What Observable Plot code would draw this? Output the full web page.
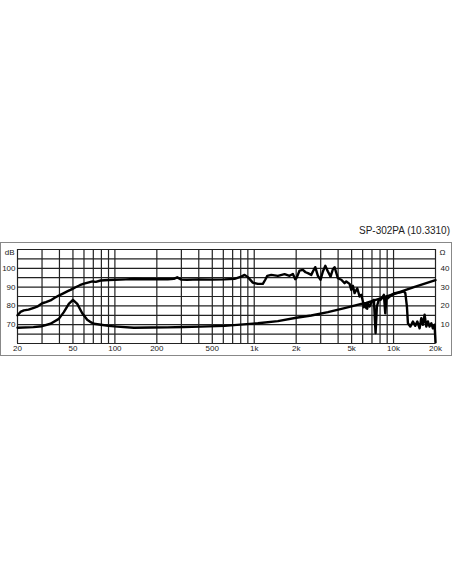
<!DOCTYPE html>
<html><head><meta charset="utf-8">
<script src="https://cdn.jsdelivr.net/npm/d3@7"></script>
<script src="https://cdn.jsdelivr.net/npm/@observablehq/plot@0.6"></script>
<style>
html,body{margin:0;padding:0;background:#fff;width:452px;height:584px;overflow:hidden;position:relative;font-family:"Liberation Sans",Arial,sans-serif;}
#chart{position:absolute;left:0;top:0;}
#title{position:absolute;right:2px;top:225px;font-size:10px;line-height:1.15;color:#222;white-space:nowrap;}
#frame{position:absolute;left:0;top:242px;width:452px;height:114px;border:1px solid #888;box-sizing:border-box;pointer-events:none;}
</style></head><body>
<div id="chart"></div>
<div id="title">SP-302PA (10.3310)</div>
<div id="frame"></div>
<script>
// Frequency response (SPL, dB)
const splFreq = [20,21,22.2,24,26.2,28,30.1,32,34.5,37,39.6,43,45.5,48,50,52.2,56,60,65,69,73,79,90,100,120,137,160,192,240,265,280,300,330,400,500,612,722,807,853,900,977,1062,1153,1200,1241,1325,1478,1651,1793,1894,1970,2003,2056,2116,2234,2336,2427,2567,2636,2742,2864,2994,3110,3236,3378,3532,3668,3773,3986,4216,4452,4578,4835,4972,5105,5250,5490,5702,5866,6024,6124,6194,6298,6370,6476,6542,6728,6988,7224,7430,7592,7810,8072,8246,8524,8722,8912,9106,9522,10172,11052,11866,12144,12470,12678,13190,13770,14322,14804,15376,15814,16240,16704,17180,17638,18140,18660,19156,19702,20000];
const splDb = [75.0,76.8,77.6,78.0,79.0,79.8,81.4,82.0,82.9,84.3,85.5,86.8,87.7,88.5,89.2,89.9,91.0,91.8,92.5,93.0,92.8,93.5,93.8,93.9,94.1,94.3,94.2,94.2,94.2,94.4,95.2,94.0,93.9,94.1,94.0,94.1,94.4,95.6,96.5,95.3,92.4,91.7,91.7,93.9,96.0,96.5,96.0,96.9,96.0,97.0,94.2,94.7,96.5,98.8,99.2,97.9,97.4,96.5,98.3,100.6,96.0,93.9,98.3,101.3,98.3,95.6,99.5,100.6,94.7,93.9,92.1,93.0,91.7,88.5,90.7,86.8,89.4,85.0,85.9,82.3,79.3,80.6,81.1,78.8,78.5,81.4,79.7,82.3,83.2,65.5,79.7,82.9,83.2,84.1,85.9,76.0,85.0,84.1,85.4,86.8,87.1,87.7,86.8,79.7,70.8,69.0,71.7,69.4,71.7,68.1,73.5,70.0,75.3,69.0,71.7,69.0,70.8,68.1,70.0,60.5];

// Impedance (Ω), plotted against the right-hand scale
const impFreq = [20,26,30,34.5,39.6,43,46.7,50,53.7,58.3,63.3,67.6,70.6,79.5,90,104,137,182,238,312,412,612,1062,1478,2003,2567,3378,4452,5866,6370,8072,10740,14000,20000];
const impOhm = [8.4,8.7,9.2,10.5,13.1,16.7,21.1,23.2,21.1,16.1,12.6,11.2,10.5,10.0,9.4,9.0,8.4,8.5,8.6,8.8,9.0,9.4,10.8,11.9,13.7,14.9,16.7,18.8,21.1,21.6,24.0,27.0,30.0,33.7];

const OHM_OFFSET = 60; // 10 Ω sits on the 70 dB line
const xTicks = [20,50,100,200,500,1000,2000,5000,10000,20000];
const xTickLabels = ["20","50","100","200","500","1k","2k","5k","10k","20k"];
const xGrid = [20,30,40,50,60,70,80,90,100,200,300,400,500,600,700,800,900,1000,2000,3000,4000,5000,6000,7000,8000,9000,10000,20000];
const dbTicks = [70,80,90,100];
const ohmTicks = [10,20,30,40];
const yGrid = [60,65,70,75,80,85,90,95,100,105,110];

const spl = splFreq.map((f,i)=>({f, db: splDb[i]}));
const imp = impFreq.map((f,i)=>({f, ohm: impOhm[i]}));
const xLab = xTicks.map((f,i)=>({f, label: xTickLabels[i]}));
const fontStyle = {fontFamily: '"Liberation Sans", Arial, sans-serif', fontSize: 8, fill: "#1a1a1a"};

const plot = Plot.plot({
  width: 452,
  height: 584,
  marginLeft: 17,
  marginRight: 17,
  marginTop: 249,
  marginBottom: 241,
  style: {fontFamily: '"Liberation Sans", Arial, sans-serif', fontSize: "8px", color: "#1a1a1a", background: "transparent"},
  x: {type: "log", domain: [20, 20000], axis: null},
  y: {domain: [60, 110], axis: null},
  marks: [
    Plot.ruleY(yGrid, {stroke: "#222", strokeWidth: 1.2}),
    Plot.ruleX(xGrid, {stroke: "#222", strokeWidth: 1.2}),
    Plot.line(imp, {x: "f", y: d => d.ohm + OHM_OFFSET, stroke: "#000", strokeWidth: 2.4, strokeLinejoin: "round", strokeLinecap: "round"}),
    Plot.line(spl, {x: "f", y: "db", stroke: "#000", strokeWidth: 2.4, strokeLinejoin: "round", strokeLinecap: "round"}),
    Plot.text(xLab, {x: "f", text: "label", frameAnchor: "bottom", lineAnchor: "top", dy: 2, ...fontStyle}),
    Plot.text(dbTicks, {y: d => d, text: d => String(d), frameAnchor: "left", textAnchor: "end", dx: -2, ...fontStyle}),
    Plot.text(ohmTicks, {y: d => d + OHM_OFFSET, text: d => String(d), frameAnchor: "right", textAnchor: "start", dx: 5, ...fontStyle}),
    Plot.text(["dB"], {frameAnchor: "top-left", textAnchor: "end", lineAnchor: "middle", dx: -3, dy: 3, ...fontStyle}),
    Plot.text(["Ω"], {frameAnchor: "top-right", textAnchor: "start", lineAnchor: "middle", dx: 4, dy: 3, ...fontStyle})
  ]
});
document.getElementById("chart").appendChild(plot);
</script>
</body></html>
